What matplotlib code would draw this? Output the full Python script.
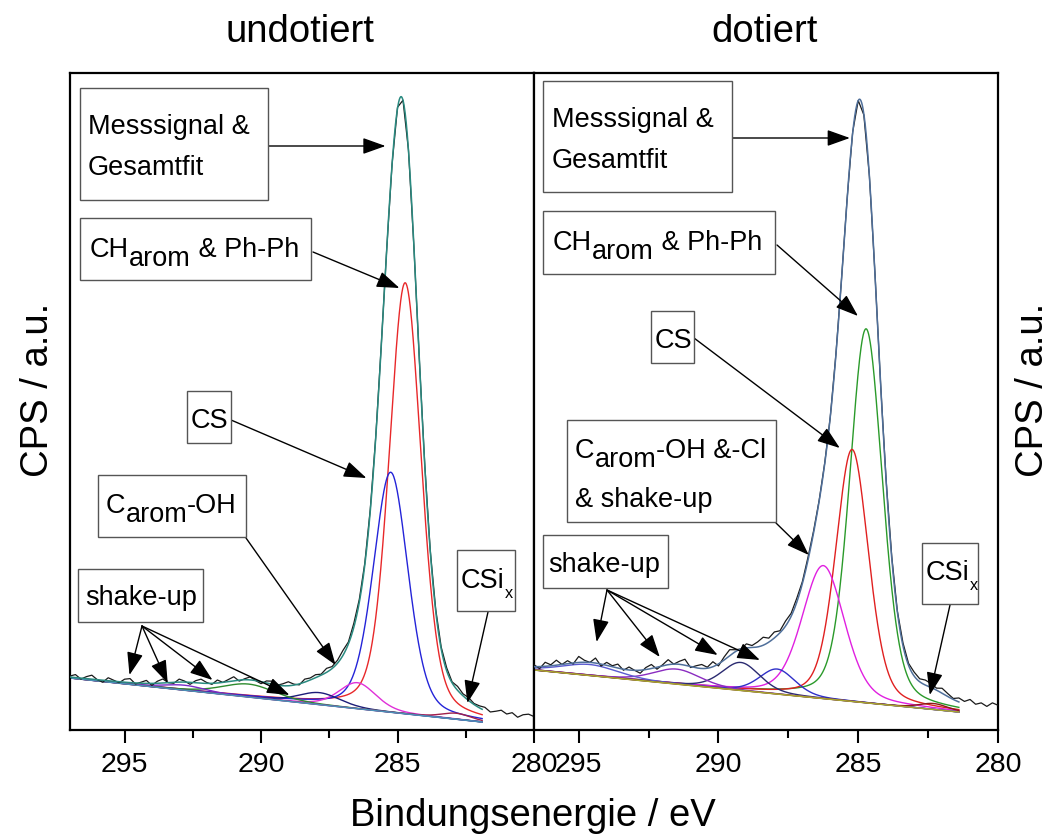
import numpy as np
import matplotlib
matplotlib.use("Agg")
import matplotlib.pyplot as plt
from matplotlib.patches import Rectangle

plt.rcParams['font.family'] = ['Liberation Sans', 'DejaVu Sans']

# ---------------- data ----------------
# XPS C1s fit components: (centre eV, height above background, FWHM eV)
left_bg = [(297.0, 52.0), (281.9, 8.0)]          # linear background end points
left_fit_range = (297.0, 281.9)
left_centers = [284.72, 285.25, 286.47, 287.86, 290.45, 292.8, 282.84]
left_heights = [431, 240, 26, 12, 13, 5, 6]
left_fwhm = [1.38, 1.5, 1.6, 1.8, 2.3, 1.8, 1.3]
left_colors = ['#e8282a', '#2424d8', '#e030d8', '#1c1c78', '#2e8b2e', '#7a2cc8', '#a0204a']
left_residual = [1, 3, -1, 2, 4, 0, -2, 3, 1, -1, 3, 4, -1, 1, 3, -2, 2, 4, 0, -1, 3, 1, -2, 2, 4,
                 1, -1, 3, 0, 2, 4, -1, 1, 3, 0, -2, 2, 3, 0, 2, 4, 1, -1, 3, 2,
                 3, 1, 4, 2, 3, 5, 2, 4, 3, 2,
                 2, 1, 1, 0, 0, 1, 0, 0, -1, 0, 1, 1, 2,
                 2, 3, 1, 4, 2, 3, 1, 2,
                 3, 0, 2, 4, 1, 3, -1, 2, 3, 1]

right_bg = [(296.6, 60.0), (281.4, 18.0)]
right_fit_range = (296.6, 281.4)
right_centers = [284.72, 285.22, 286.25, 287.9, 289.2, 291.5, 294.6, 282.3]
right_heights = [374, 252, 133, 25, 28, 15, 11, 6]
right_fwhm = [1.38, 1.38, 1.79, 1.5, 1.6, 2.0, 2.4, 1.2]
right_colors = ['#2a9a2a', '#e02020', '#e020e0', '#3030c8', '#2a2a70', '#8a2cc0', '#5a5ad0', '#8a1a1a']
right_residual = [2, -2, 4, 1, 5, 0, 3, -1, 6, 2, 0, 5, -2, 3, 1, 4, -1, 3, 0, -3,
                  2, 4, -2, 1, 5, 0, 3, 6, -1, 2, 4, 1, 5, -2, 3, 6, 2, 0, 4, 2,
                  5, 8, 4, 6, 2, 5, 3, 4, 2, 3,
                  2, 1, 1, 0, 1, 0, 0, 1, 0, -1, 0, 1, 0, 1,
                  2, 1, 3, 2, 4, 3, 5,
                  4, 2, 5, 3, 1, 4, 2, 5, 1, 3, 0, 4, 2]

xticks = [295, 290, 285, 280]
xminor = [292.5, 287.5, 282.5]

# ---------------- helpers ----------------
W, H = 1056, 839
FS = 19.5
FS_TICK = 20.5
FS_LABEL = 27.5


def gl(x, c, h, w):
    d = (x - c) / w
    return h * (0.7 * np.exp(-4 * np.log(2) * d ** 2) + 0.3 / (1 + 4 * d ** 2))


def background(x, bg):
    (x0, y0), (x1, y1) = bg
    return np.interp(x, [x1, x0], [y1, y0])


fig = plt.figure(figsize=(W / 100, H / 100), dpi=100)
fig.patch.set_facecolor('white')

axL = fig.add_axes([70 / W, 1 - 730 / H, (534 - 70) / W, (730 - 73) / H])
axR = fig.add_axes([534 / W, 1 - 730 / H, (998 - 534) / W, (730 - 73) / H])


def draw_panel(ax, xlim, bg, fit_range, centers, heights, fwhm, colors, residual,
               bg_color, total_color):
    xf = np.linspace(fit_range[0], fit_range[1], 1200)
    bgf = background(xf, bg)
    total = bgf.copy()
    for c, h, w, col in zip(centers, heights, fwhm, colors):
        comp = gl(xf, c, h, w)
        total += comp
        ax.plot(xf, bgf + comp, color=col, lw=1.0, zorder=2)
    ax.plot(xf, bgf, color=bg_color, lw=1.1, zorder=2)
    xm = xlim[0] - 0.2 * np.arange(len(residual))
    ym = background(xm, bg) + np.array(residual, dtype=float)
    for c, h, w in zip(centers, heights, fwhm):
        ym = ym + gl(xm, c, h, w)
    ax.plot(xm, ym, color='#1a1a1a', lw=0.9, zorder=3)
    ax.plot(xf, total, color=total_color, lw=1.1, zorder=4)
    ax.set_xlim(*xlim)
    ax.set_ylim(0, 657)
    ax.set_xticks(xticks)
    ax.set_xticks(xminor, minor=True)
    ax.set_xticklabels([str(t) for t in xticks])
    ax.set_yticks([])
    ax.tick_params(axis='x', which='major', length=9.5, width=1.5, direction='out',
                   labelsize=FS_TICK, pad=6)
    ax.tick_params(axis='x', which='minor', length=5.5, width=1.5, direction='out')
    for s in ax.spines.values():
        s.set_linewidth(1.6)
        s.set_color('black')


draw_panel(axL, (297.0, 280.0), left_bg, left_fit_range, left_centers, left_heights,
           left_fwhm, left_colors, left_residual, '#4a90b8', '#2a8a80')
draw_panel(axR, (296.6, 280.0), right_bg, right_fit_range, right_centers, right_heights,
           right_fwhm, right_colors, right_residual, '#a8a830', '#4f6f9a')

renderer = fig.canvas.get_renderer()


def box(l, t, r, b):
    fig.add_artist(Rectangle((l / W, 1 - b / H), (r - l) / W, (b - t) / H,
                             transform=fig.transFigure, fc='white', ec='#555555',
                             lw=1.0, zorder=5))


def rich(x, y, pieces):
    cx = x
    for s, dy, size in pieces:
        t = fig.text(cx / W, 1 - (y + dy) / H, s, fontsize=size, ha='left',
                     va='baseline', zorder=6)
        cx += t.get_window_extent(renderer=renderer).width


def arrow(ax, start, target):
    ax.annotate('', xy=target, xycoords='data', xytext=(start[0], H - start[1]),
                textcoords='figure pixels', annotation_clip=False,
                arrowprops=dict(arrowstyle='-|>,head_length=0.7,head_width=0.25',
                                color='black', lw=1.0, shrinkA=0, shrinkB=0,
                                mutation_scale=20), zorder=7)


# ---- left panel annotations ----
box(80, 88, 268, 200)
rich(88, 134, [('Messsignal &', 0, FS)])
rich(88, 175, [('Gesamtfit', 0, FS)])
box(80, 218, 311, 280)
rich(90, 257, [('CH', 0, FS), ('arom', 9, FS), (' & Ph-Ph', 0, FS)])
box(187, 391, 231, 443)
rich(191, 428, [('CS', 0, FS)])
box(98, 475, 246, 537)
rich(106, 513, [('C', 0, FS), ('arom', 9, FS), ('-OH', 0, FS)])
box(78, 569, 203, 622)
rich(85, 605, [('shake-up', 0, FS)])
box(457, 550, 515, 611)
rich(461, 588, [('CSi', 0, FS), ('x', 10, FS * 0.6)])

arrow(axL, (268, 146), (285.44, 584))
arrow(axL, (313, 252), (284.93, 442))
arrow(axL, (231, 420), (286.14, 252))
arrow(axL, (246, 538), (287.27, 65))
for tgt in [(294.82, 55), (293.42, 47), (291.78, 50), (288.96, 35)]:
    arrow(axL, (142, 626), tgt)
arrow(axL, (488, 612), (282.44, 27))

# ---- right panel annotations ----
box(543, 81, 732, 192)
rich(552, 127, [('Messsignal &', 0, FS)])
rich(552, 168, [('Gesamtfit', 0, FS)])
box(543, 211, 775, 274)
rich(553, 250, [('CH', 0, FS), ('arom', 9, FS), (' & Ph-Ph', 0, FS)])
box(651, 311, 694, 363)
rich(655, 348, [('CS', 0, FS)])
box(567, 420, 776, 522)
rich(575, 458, [('C', 0, FS), ('arom', 9, FS), ('-OH &-Cl', 0, FS)])
rich(575, 507, [('& shake-up', 0, FS)])
box(543, 535, 668, 588)
rich(548, 572, [('shake-up', 0, FS)])
box(922, 543, 978, 604)
rich(926, 580, [('CSi', 0, FS), ('x', 10, FS * 0.6)])

arrow(axR, (732, 138), (285.30, 592))
arrow(axR, (777, 245), (285.01, 414))
arrow(axR, (694, 338), (285.66, 282))
arrow(axR, (776, 523), (286.77, 175))
for tgt in [(294.36, 88), (292.10, 73), (290.03, 75), (288.52, 70)]:
    arrow(axR, (607, 590), tgt)
arrow(axR, (950, 605), (282.44, 35))

# ---- titles and axis labels ----
fig.text(300 / W, 1 - 32 / H, 'undotiert', ha='center', va='center', fontsize=FS_LABEL)
fig.text(765 / W, 1 - 32 / H, 'dotiert', ha='center', va='center', fontsize=FS_LABEL)
fig.text(38 / W, 1 - 390 / H, 'CPS / a.u.', ha='center', va='center', rotation=90,
         fontsize=FS_LABEL)
fig.text(1033 / W, 1 - 390 / H, 'CPS / a.u.', ha='center', va='center', rotation=90,
         fontsize=FS_LABEL)
fig.text(533 / W, 1 - 816 / H, 'Bindungsenergie / eV', ha='center', va='center',
         fontsize=FS_LABEL)

fig.savefig('out.png', dpi=100, facecolor='white')
